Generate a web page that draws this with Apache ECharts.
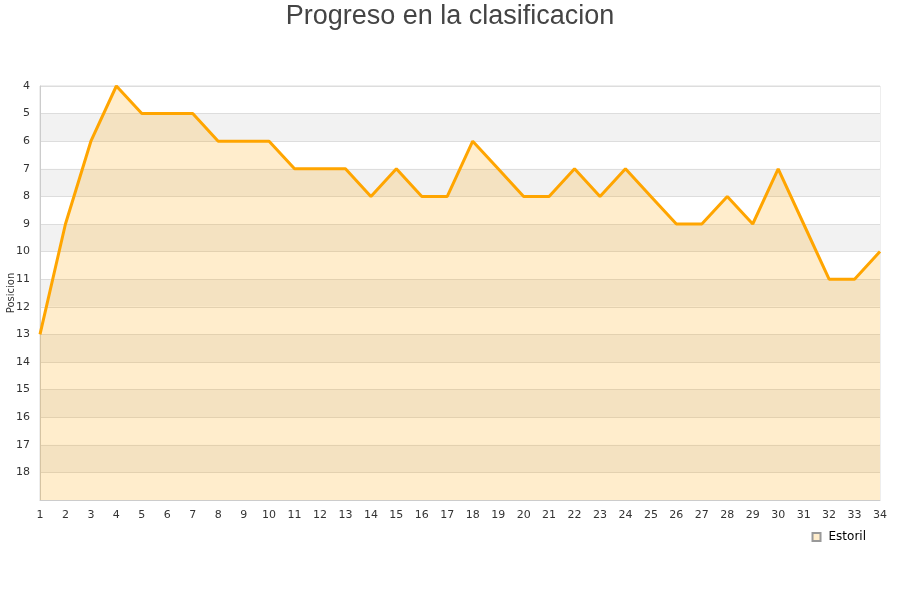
<!DOCTYPE html>
<html>
<head>
<meta charset="utf-8">
<script src="https://cdn.jsdelivr.net/npm/echarts@6/dist/echarts.min.js"></script>
<style>
html, body { margin: 0; padding: 0; background: #fff; }
#main { width: 900px; height: 600px; }
</style>
</head>
<body>
<div id="main"></div>
<script>
var jornadas = ["1","2","3","4","5","6","7","8","9","10","11","12","13","14","15","16","17","18","19","20","21","22","23","24","25","26","27","28","29","30","31","32","33","34"];
var posiciones = [13, 9, 6, 4, 5, 5, 5, 6, 6, 6, 7, 7, 7, 8, 7, 8, 8, 6, 7, 8, 8, 7, 8, 7, 8, 9, 9, 8, 9, 7, 9, 11, 11, 10];
var equipo = "Estoril";

var chart = echarts.init(document.getElementById("main"));

var option = {
    animation: false,
    title: {
        text: "Progreso en la clasificacion",
        left: "center",
        top: -2,
        textStyle: {
            fontFamily: "Liberation Sans",
            fontSize: 27,
            fontWeight: "normal",
            color: "#444"
        }
    },
    grid: {
        left: 40,
        right: 20,
        top: 86,
        bottom: 100,
        containLabel: false,
        outerBoundsMode: "none",
        show: true,
        borderColor: "#ddd",
        borderWidth: 1
    },
    legend: {
        data: [equipo],
        right: 30,
        top: 529,
        itemWidth: 8,
        itemHeight: 8,
        itemGap: 10,
        icon: "rect",
        backgroundColor: "#fff",
        padding: [2, 4, 2, 4],
        textStyle: { fontFamily: "DejaVu Sans", fontSize: 12, color: "#000", padding: [0, 0, 0, 3] }
    },
    xAxis: {
        type: "category",
        data: jornadas,
        boundaryGap: false,
        axisLine: { lineStyle: { color: "#ccc" } },
        axisTick: { show: false },
        axisLabel: { fontFamily: "DejaVu Sans", fontSize: 11, color: "#333", margin: 10 },
        splitLine: { show: false }
    },
    yAxis: {
        type: "value",
        inverse: true,
        min: 4,
        max: 19,
        interval: 1,
        name: "Posicion",
        nameLocation: "middle",
        nameGap: 24,
        nameMoveOverlap: false,
        nameTextStyle: { fontFamily: "DejaVu Sans", fontSize: 10, color: "#333" },
        axisLine: { show: true, lineStyle: { color: "#ccc" } },
        axisTick: { show: false },
        axisLabel: {
            fontFamily: "DejaVu Sans",
            fontSize: 11,
            color: "#333",
            margin: 10,
            formatter: function (v) { return v > 18 ? "" : v; }
        },
        splitLine: { show: true, lineStyle: { color: "#ddd" } },
        splitArea: { show: true, areaStyle: { color: ["#ffffff", "#f2f2f2"] } }
    },
    series: [{
        name: equipo,
        type: "line",
        data: posiciones,
        showSymbol: false,
        symbol: "none",
        lineStyle: { color: "#ffa500", width: 3 },
        itemStyle: { color: "#ffedcc", borderColor: "#999", borderWidth: 1 },
        areaStyle: { color: "#ffa500", opacity: 0.2, origin: "end" }
    }]
};

chart.setOption(option);
</script>
</body>
</html>
